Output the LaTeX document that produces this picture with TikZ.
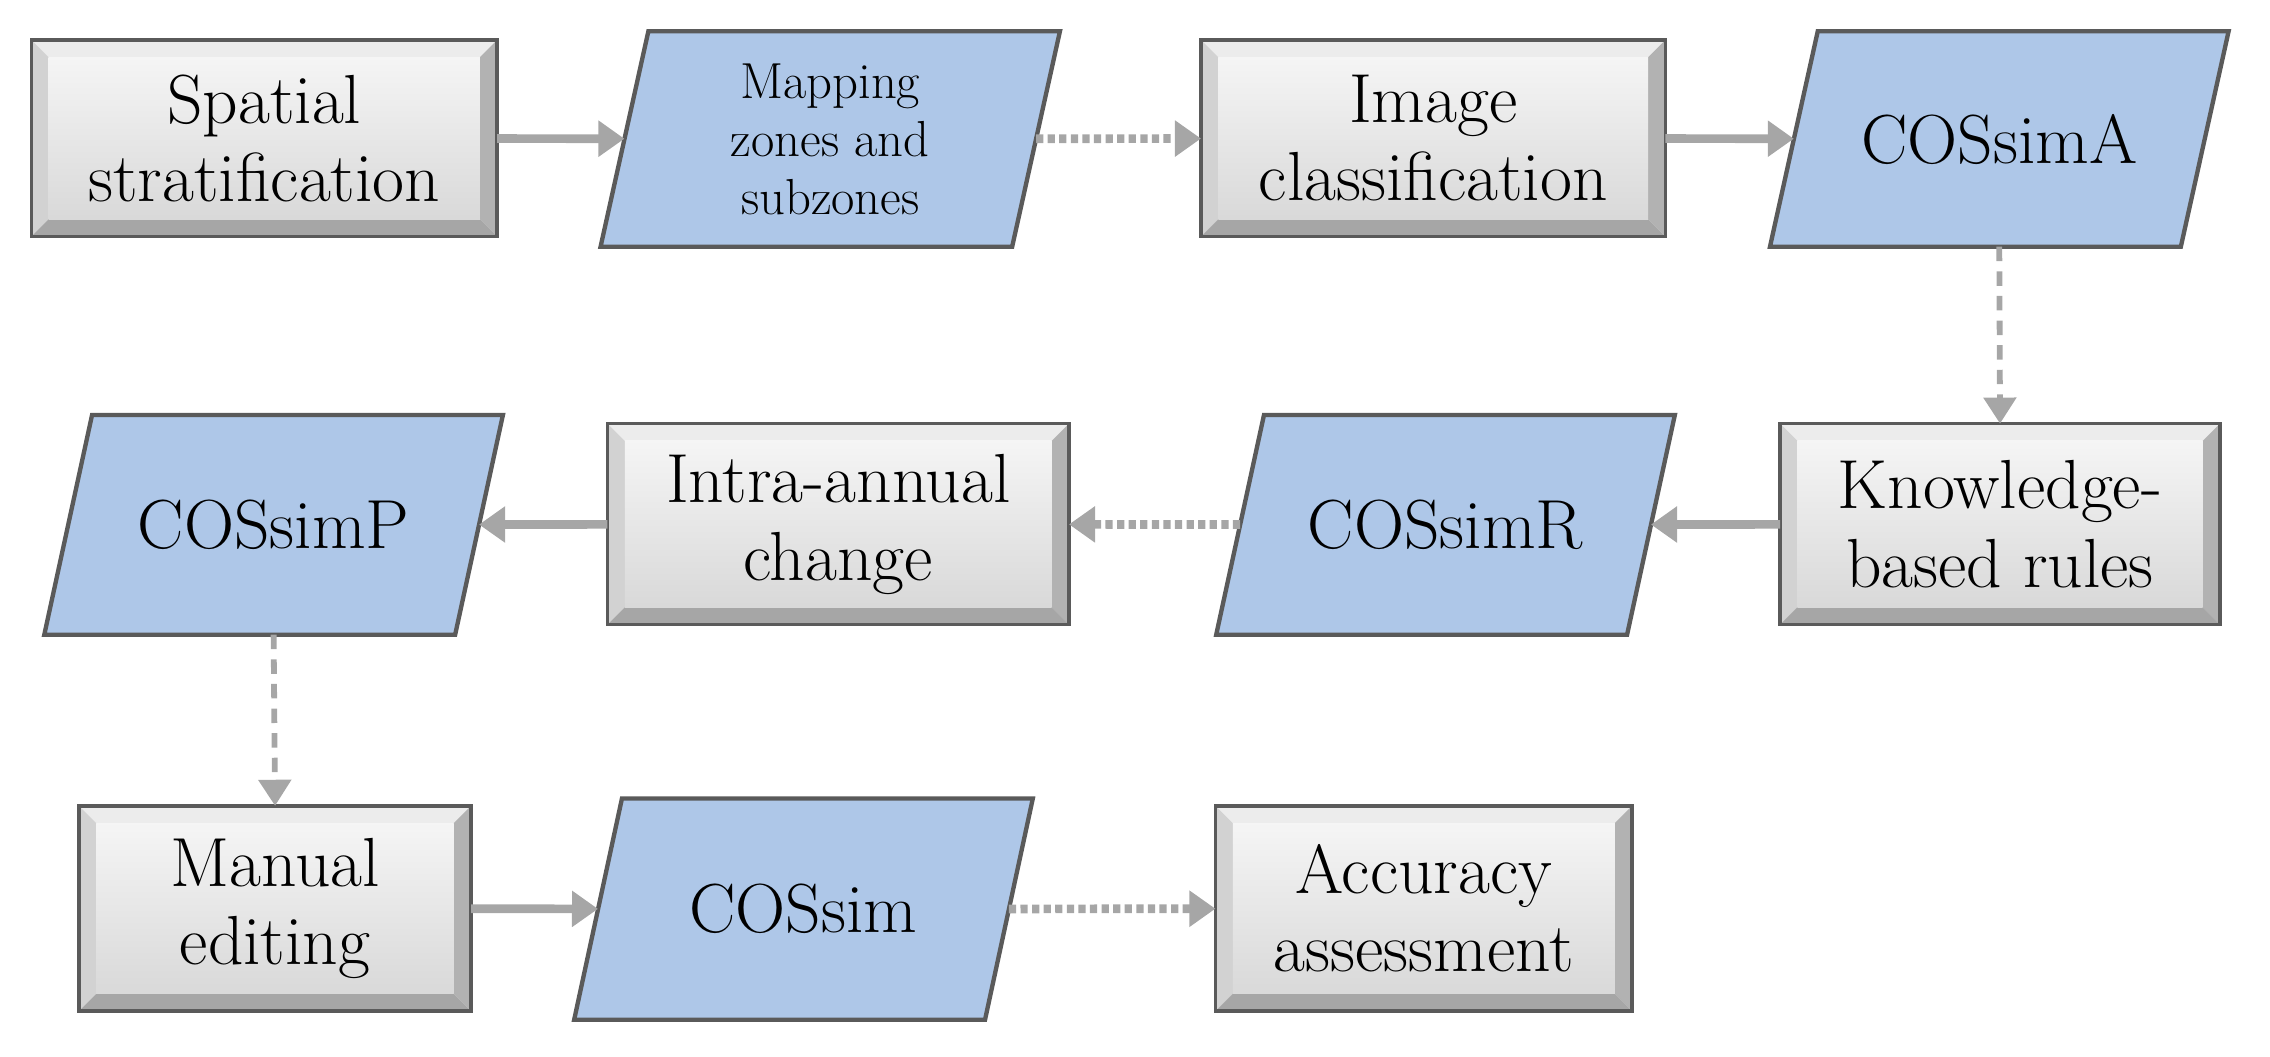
\documentclass[tikz,border=0pt]{standalone}
\usetikzlibrary{arrows.meta,backgrounds}
\definecolor{pblue}{RGB}{174,199,232}
\definecolor{arr}{RGB}{166,166,166}
\definecolor{edge}{RGB}{90,90,90}
\tikzset{
  box/.style={inner sep=0pt,align=center,font=\fontsize{24}{27}\selectfont},
  small/.style={font=\fontsize{17.5}{20}\selectfont},
  link/.style={draw=arr,line width=3pt,-{Triangle[length=9pt,width=12pt]}},
  dlink/.style={link,dash pattern=on 2.5pt off 1.5pt},
  vlink/.style={draw=arr,line width=2pt,dash pattern=on 5pt off 3.5pt,-{Triangle[length=9pt,width=11pt]}},
}
\newcommand\bevbox[6]{%
  \node[box,minimum width=#4*0.5pt,minimum height=#5*0.5pt] (#1) at (#2,#3) {#6};
  \begin{scope}[on background layer]
    \def\b{6pt}
    \fill[gray!15] (#1.north west) -- (#1.north east) -- ([shift={(-\b,-\b)}]#1.north east) -- ([shift={(\b,-\b)}]#1.north west) -- cycle;
    \fill[gray!35] (#1.north west) -- (#1.south west) -- ([shift={(\b,\b)}]#1.south west) -- ([shift={(\b,-\b)}]#1.north west) -- cycle;
    \fill[gray!60] (#1.north east) -- (#1.south east) -- ([shift={(-\b,\b)}]#1.south east) -- ([shift={(-\b,-\b)}]#1.north east) -- cycle;
    \fill[gray!70] (#1.south west) -- (#1.south east) -- ([shift={(-\b,\b)}]#1.south east) -- ([shift={(\b,\b)}]#1.south west) -- cycle;
    \shade[top color=gray!8,bottom color=gray!30] ([shift={(\b,-\b)}]#1.north west) rectangle ([shift={(-\b,\b)}]#1.south east);
    \draw[edge,line width=1.2pt] (#1.north west) rectangle (#1.south east);
  \end{scope}}
\newcommand\para[7][]{%
  \node[box,#1,minimum width=#5*0.5pt,minimum height=#6*0.5pt] (#2) at (#3,#4) {#7};
  \begin{scope}[on background layer]
    \filldraw[fill=pblue,draw=edge,line width=1.5pt] ([xshift=8.25pt]#2.north west) -- ([xshift=8.25pt]#2.north east) -- ([xshift=-8.25pt]#2.south east) -- ([xshift=-8.25pt]#2.south west) -- cycle;
  \end{scope}}
\begin{document}
\begin{tikzpicture}[x=0.5pt,y=-0.5pt]
\useasboundingbox (0,0) rectangle (1568,730);
\bevbox{spatial}{182.5}{95.5}{321}{135}{Spatial\\stratification}
\para[small]{mapping}{573.5}{96}{283.5}{148}{Mapping\\zones and\\subzones}
\bevbox{image}{990}{95.5}{320}{135}{Image\\classification}
\para{cosA}{1381}{96}{283}{148}{COSsimA}
\bevbox{know}{1381.5}{362}{303}{138}{Knowledge-\\based rules}
\para{cosR}{998.5}{362.5}{283}{151}{COSsimR}
\bevbox{intra}{579}{362}{318}{138}{Intra-annual\\change}
\para{cosP}{189}{362.5}{283}{151}{COSsimP}
\bevbox{manual}{190}{627.5}{270}{141}{Manual\\editing}
\para{cossim}{555}{628}{283}{152}{COSsim}
\bevbox{acc}{983.5}{627.5}{287}{141}{Accuracy\\assessment}
\draw[link] (spatial) -- (mapping);
\draw[dlink] (mapping) -- (image);
\draw[link] (image) -- (cosA);
\draw[vlink] (cosA.south) -- (know.north);
\draw[link] (know) -- (cosR);
\draw[dlink] (cosR) -- (intra);
\draw[link] (intra) -- (cosP);
\draw[vlink] (cosP.south) -- (manual.north);
\draw[link] (manual) -- (cossim);
\draw[dlink] (cossim) -- (acc);
\end{tikzpicture}
\end{document}
